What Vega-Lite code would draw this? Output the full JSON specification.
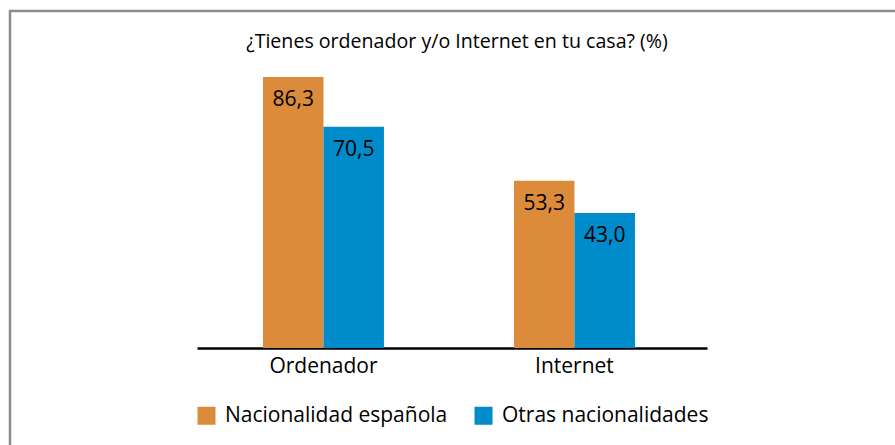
{
  "$schema": "https://vega.github.io/schema/vega-lite/v6.json",
  "autosize": "none",
  "width": 900,
  "height": 440,
  "padding": {"left": 10, "top": 11, "right": 0, "bottom": 0},
  "background": "white",
  "config": {
    "font": "Open Sans",
    "view": {"stroke": "#8c8c8c", "strokeWidth": 2.5},
    "locale": {"number": {"decimal": ",", "thousands": ".", "grouping": [3], "currency": ["", " €"]}}
  },
  "title": {
    "text": "¿Tienes ordenador y/o Internet en tu casa? (%)",
    "fontSize": 19.6,
    "fontWeight": "normal",
    "color": "#000000",
    "anchor": "middle",
    "frame": "group",
    "offset": -42,
    "dx": -3
  },
  "data": {
    "values": [
      {"medio": "Ordenador", "grupo": "Nacionalidad española", "valor": 86.3},
      {"medio": "Ordenador", "grupo": "Otras nacionalidades", "valor": 70.5},
      {"medio": "Internet", "grupo": "Nacionalidad española", "valor": 53.3},
      {"medio": "Internet", "grupo": "Otras nacionalidades", "valor": 43.0}
    ]
  },
  "encoding": {
    "x": {
      "field": "medio",
      "type": "nominal",
      "sort": ["Ordenador", "Internet"],
      "scale": {"range": [187, 697], "paddingInner": 0.518, "paddingOuter": 0.275, "align": 0.478},
      "axis": {
        "title": null,
        "orient": "bottom",
        "offset": -103,
        "labelAngle": 0,
        "labelFontSize": 21,
        "labelColor": "#000000",
        "labelPadding": 7,
        "ticks": false,
        "domainColor": "#000000",
        "domainWidth": 2.5,
        "grid": false
      }
    },
    "xOffset": {
      "field": "grupo",
      "type": "nominal",
      "sort": ["Nacionalidad española", "Otras nacionalidades"],
      "scale": {"paddingInner": 0, "paddingOuter": 0}
    },
    "y": {
      "field": "valor",
      "type": "quantitative",
      "scale": {"domain": [0, 100], "range": [337, 23], "nice": false},
      "axis": null
    }
  },
  "layer": [
    {
      "mark": {"type": "bar"},
      "encoding": {
        "color": {
          "field": "grupo",
          "type": "nominal",
          "sort": ["Nacionalidad española", "Otras nacionalidades"],
          "scale": {"range": ["#db8b3a", "#008bca"]},
          "legend": {
            "title": null,
            "orient": "none",
            "legendX": 186,
            "legendY": 394,
            "direction": "horizontal",
            "columns": 2,
            "symbolType": "square",
            "symbolSize": 324,
            "symbolStrokeWidth": 0,
            "labelFontSize": 21,
            "labelColor": "#000000",
            "labelLimit": 0,
            "labelOffset": 8,
            "columnPadding": 25,
            "padding": 0
          }
        }
      }
    },
    {
      "mark": {"type": "text", "baseline": "top", "dy": 12, "fontSize": 21, "color": "#000000"},
      "encoding": {
        "text": {"field": "valor", "type": "quantitative", "format": ".1f"}
      }
    }
  ]
}
